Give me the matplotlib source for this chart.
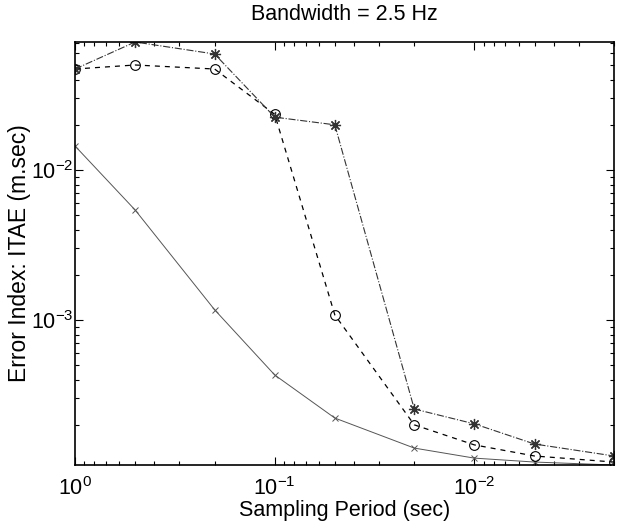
import numpy as np
import matplotlib
matplotlib.use('Agg')
import matplotlib.pyplot as plt
from matplotlib.ticker import LogLocator, NullFormatter

# sampling periods (sec)
period = [1.0, 0.5, 0.2, 0.1, 0.05, 0.02, 0.01, 0.005, 0.002]

# error index ITAE (m.sec) per controller
itae_star = [0.0471, 0.0713, 0.0593, 0.0225, 0.0200, 2.55e-4, 2.03e-4, 1.49e-4, 1.24e-4]
itae_circle = [0.0471, 0.0501, 0.0471, 0.0235, 1.08e-3, 2.0e-4, 1.47e-4, 1.24e-4, 1.13e-4]
itae_cross = [0.01445, 5.41e-3, 1.17e-3, 4.3e-4, 2.22e-4, 1.40e-4, 1.2e-4, 1.13e-4, 1.08e-4]

plt.rcParams['font.family'] = ['Liberation Sans', 'DejaVu Sans']

fig = plt.figure(figsize=(6.18, 5.25), dpi=100)
ax = fig.add_axes([0.1214, 0.1143, 0.8721, 0.8057])

ax.loglog(period, itae_cross, '-', color='#555555', lw=0.7, marker='x', ms=5, mew=0.7)
ax.loglog(period, itae_circle, '--', color='black', lw=0.9, marker='o', ms=7,
          mfc='none', mew=0.8, dashes=(4, 4))
ax.loglog(period, itae_star, '-.', color='#333333', lw=0.8, marker=(8, 2, 0), ms=8, mew=0.9)

ax.set_xlim(1.0, 0.002)
ax.set_ylim(min(itae_cross), max(itae_star))

ax.xaxis.set_major_locator(LogLocator(base=10, numticks=10))
ax.yaxis.set_major_locator(LogLocator(base=10, numticks=10))
ax.xaxis.set_minor_locator(LogLocator(base=10, subs=np.arange(2, 10), numticks=10))
ax.yaxis.set_minor_locator(LogLocator(base=10, subs=np.arange(2, 10), numticks=10))
ax.xaxis.set_minor_formatter(NullFormatter())
ax.yaxis.set_minor_formatter(NullFormatter())

ax.tick_params(which='both', direction='in', top=True, right=True, labelsize=15.5, width=0.8)
ax.tick_params(which='major', length=6)
ax.tick_params(which='minor', length=3)
ax.tick_params(axis='x', which='major', pad=9)
ax.tick_params(axis='y', which='major', pad=1)
for s in ax.spines.values():
    s.set_linewidth(1.2)

ax.set_xlabel('Sampling Period (sec)', fontsize=15.5, labelpad=0)
ax.set_ylabel('Error Index: ITAE (m.sec)', fontsize=16.5, labelpad=0)
ax.set_title('Bandwidth = 2.5 Hz', fontsize=15.5, pad=16)

plt.savefig('out.png', dpi=100)
